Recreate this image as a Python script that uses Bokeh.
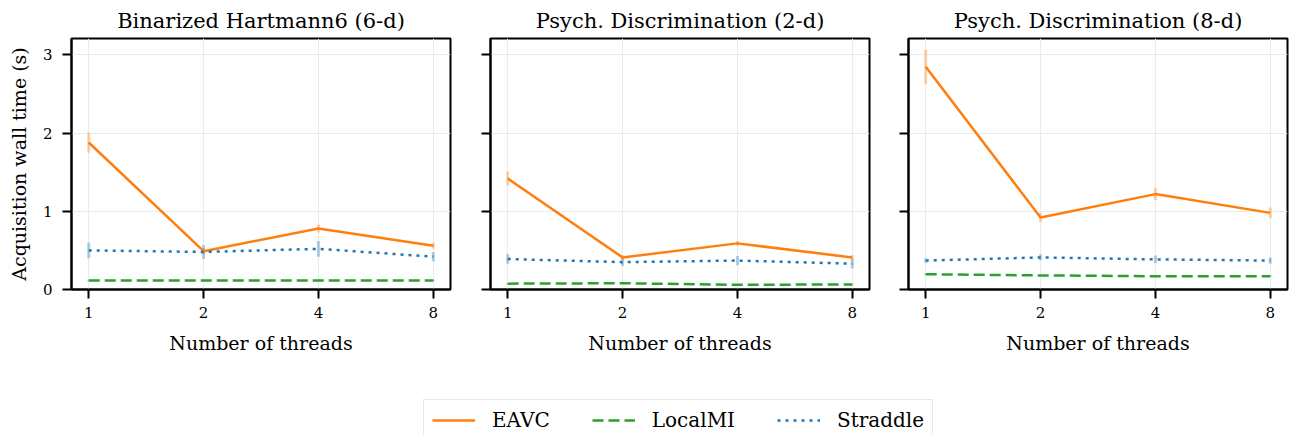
from bokeh.plotting import figure
from bokeh.models import Range1d, FixedTicker, Legend, LegendItem, ColumnDataSource
from bokeh.layouts import column, row
from bokeh.embed import file_html
from bokeh.resources import INLINE

threads = [1, 2, 4, 8]
titles = ["Binarized Hartmann6 (6-d)", "Psych. Discrimination (2-d)", "Psych. Discrimination (8-d)"]
methods = ["EAVC", "LocalMI", "Straddle"]

# Binarized Hartmann6 (6-d)
eavc_h6 = [1.88, 0.49, 0.78, 0.56]
eavc_h6_err = [0.13, 0.04, 0.05, 0.04]
localmi_h6 = [0.115, 0.115, 0.115, 0.115]
localmi_h6_err = [0.01, 0.01, 0.01, 0.01]
straddle_h6 = [0.50, 0.48, 0.52, 0.42]
straddle_h6_err = [0.10, 0.09, 0.10, 0.06]

# Psych. Discrimination (2-d)
eavc_p2 = [1.42, 0.41, 0.59, 0.41]
eavc_p2_err = [0.09, 0.03, 0.03, 0.03]
localmi_p2 = [0.075, 0.08, 0.06, 0.065]
localmi_p2_err = [0.01, 0.01, 0.01, 0.01]
straddle_p2 = [0.39, 0.35, 0.37, 0.33]
straddle_p2_err = [0.06, 0.05, 0.06, 0.06]

# Psych. Discrimination (8-d)
eavc_p8 = [2.85, 0.92, 1.22, 0.98]
eavc_p8_err = [0.22, 0.06, 0.08, 0.07]
localmi_p8 = [0.195, 0.18, 0.17, 0.17]
localmi_p8_err = [0.01, 0.01, 0.01, 0.01]
straddle_p8 = [0.37, 0.41, 0.385, 0.37]
straddle_p8_err = [0.03, 0.04, 0.05, 0.04]

panels = [
    {"EAVC": (eavc_h6, eavc_h6_err), "LocalMI": (localmi_h6, localmi_h6_err), "Straddle": (straddle_h6, straddle_h6_err)},
    {"EAVC": (eavc_p2, eavc_p2_err), "LocalMI": (localmi_p2, localmi_p2_err), "Straddle": (straddle_p2, straddle_p2_err)},
    {"EAVC": (eavc_p8, eavc_p8_err), "LocalMI": (localmi_p8, localmi_p8_err), "Straddle": (straddle_p8, straddle_p8_err)},
]

colors = {"EAVC": "#ff7f0e", "LocalMI": "#2ca02c", "Straddle": "#1f77b4"}
dashes = {"EAVC": "solid", "LocalMI": "11 5", "Straddle": "3 5"}

FONT = "DejaVu Serif"
y_ticks = [0, 1, 2, 3]

# layout geometry
FRAME_W = 379
borders = [(71, 20), (20, 19), (20, 4)]
ROW_H = 360

figs = []
for i, (title, data) in enumerate(zip(titles, panels)):
    bl, br = borders[i]
    p = figure(width=bl + FRAME_W + br, height=ROW_H, x_axis_type="log",
               x_range=Range1d(2 ** -0.15, 2 ** 3.15), y_range=Range1d(0, 3.21),
               output_backend="svg", toolbar_location=None, title=title,
               min_border_left=bl, min_border_right=br, min_border_top=37, min_border_bottom=71)
    p.title.text_font = FONT
    p.title.text_font_size = "21px"
    p.title.text_font_style = "normal"
    p.title.align = "center"
    p.title.text_color = "#000000"
    p.title.standoff = 12
    p.outline_line_color = "black"
    p.outline_line_width = 2
    p.outline_line_alpha = 1.0
    p.background_fill_color = "white"
    p.border_fill_color = "white"

    p.xaxis.ticker = FixedTicker(ticks=threads)
    p.xaxis.major_label_overrides = {t: str(t) for t in threads}
    p.yaxis.ticker = FixedTicker(ticks=y_ticks)
    for ax in (p.xaxis, p.yaxis):
        ax.axis_line_color = "black"
        ax.axis_line_width = 2
        ax.major_tick_line_color = "black"
        ax.major_tick_line_width = 2
        ax.major_tick_out = 9
        ax.major_tick_in = 0
        ax.minor_tick_line_color = None
        ax.major_label_text_font = FONT
        ax.major_label_text_font_size = "15px"
        ax.major_label_text_color = "black"
        ax.axis_label_text_font = FONT
        ax.axis_label_text_font_size = "19px"
        ax.axis_label_text_font_style = "normal"
        ax.axis_label_text_color = "black"
    p.xaxis.major_label_standoff = 8
    p.xaxis.axis_label_standoff = 11
    p.xaxis.axis_label = "Number of threads"
    p.yaxis.major_label_standoff = 10
    if i == 0:
        p.yaxis.axis_label = "Acquisition wall time (s)"
        p.yaxis.axis_label_standoff = 10
    else:
        p.yaxis.major_label_overrides = {t: "" for t in y_ticks}
        p.yaxis.major_label_standoff = 0

    p.xgrid.ticker = FixedTicker(ticks=threads)
    p.ygrid.ticker = FixedTicker(ticks=y_ticks)
    p.grid.grid_line_color = "#ebebeb"
    p.grid.grid_line_width = 1

    for m in methods:
        vals, errs = data[m]
        src = ColumnDataSource(dict(x=threads, y=vals,
                                    lo=[v - e for v, e in zip(vals, errs)],
                                    hi=[v + e for v, e in zip(vals, errs)]))
        p.segment(x0="x", y0="lo", x1="x", y1="hi", source=src,
                  line_color=colors[m], line_alpha=0.35, line_width=3)
    for m in methods:
        vals, errs = data[m]
        src = ColumnDataSource(dict(x=threads, y=vals))
        p.line(x="x", y="y", source=src, line_color=colors[m], line_width=2.5,
               line_dash=dashes[m])
    figs.append(p)

# legend strip (its lines reuse the first panel's data, kept out of view)
leg = figure(width=1291, height=75, x_range=Range1d(100, 200), y_range=Range1d(100, 200),
             output_backend="svg", toolbar_location=None,
             x_axis_location=None, y_axis_location=None, min_border=0)
leg.grid.visible = False
leg.outline_line_color = None
leg.background_fill_color = "white"
leg.border_fill_color = "white"
items = []
for m in methods:
    vals, _ = panels[0][m]
    r = leg.line(x=threads, y=vals, line_color=colors[m], line_width=2.5, line_dash=dashes[m])
    items.append(LegendItem(label=m, renderers=[r]))
legend = Legend(items=items, orientation="horizontal", location=(423, -6))
legend.label_text_font = FONT
legend.label_text_font_size = "20px"
legend.label_text_color = "black"
legend.glyph_width = 43
legend.label_standoff = 17
legend.spacing = 42
legend.padding = 8
legend.margin = 0
legend.border_line_color = "#d0d0d0"
legend.border_line_width = 1.5
legend.background_fill_color = "white"
legend.background_fill_alpha = 1.0
leg.add_layout(legend, "center")

layout = column(row(*figs, spacing=0), leg, spacing=0)
open("out.html", "w").write(file_html(layout, INLINE))
